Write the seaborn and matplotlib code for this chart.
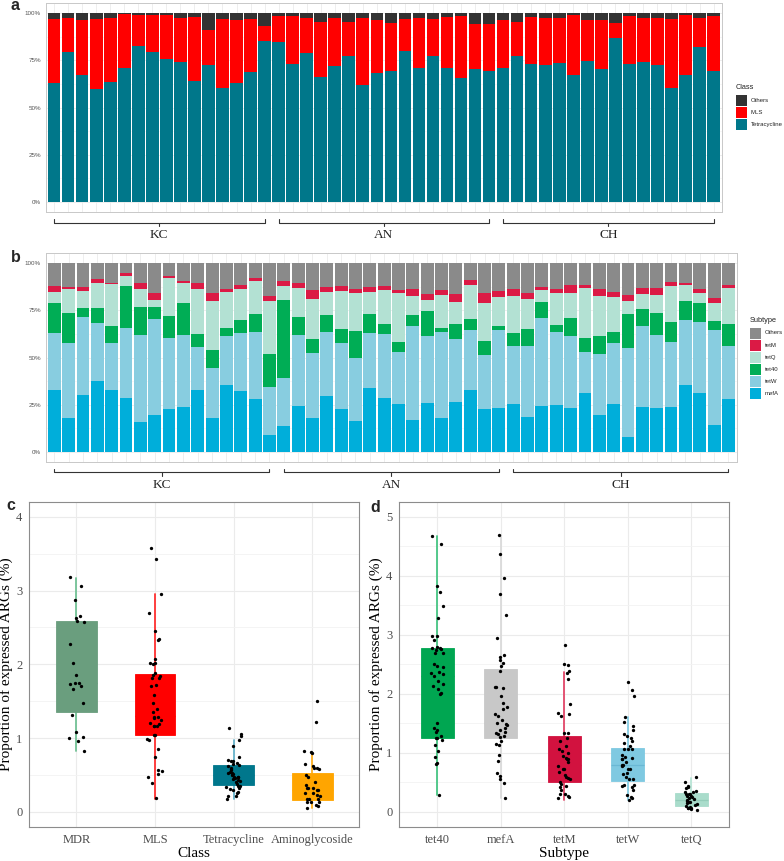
import numpy as np
import pandas as pd
import seaborn as sns
import matplotlib
matplotlib.use('Agg')
import matplotlib.pyplot as plt
import matplotlib.transforms as mtransforms
from matplotlib.patches import Rectangle

W, H = 784, 861

# ---- samples ----
groups = ['KC', 'AN', 'CH']
n_per_group = 16
samples = [f'{g}{i}' for g in groups for i in range(1, n_per_group + 1)]

# ---- panel a: class composition (%) ----
class_tetracycline = [62.8, 79.2, 67.0, 60.0, 63.5, 71.0, 82.5, 79.7, 76.0, 74.0, 64.0, 72.4, 60.1, 62.8, 68.9, 85.1,
                      84.6, 73.1, 78.7, 66.3, 72.0, 77.1, 62.1, 68.4, 69.2, 79.9, 70.8, 77.3, 71.0, 65.4, 70.3, 69.4,
                      71.2, 77.3, 73.3, 72.4, 73.8, 67.1, 74.7, 70.3, 86.9, 73.3, 74.0, 72.4, 60.5, 67.5, 82.2, 69.2]
class_mls = [34.1, 18.5, 29.7, 37.0, 34.2, 28.7, 16.5, 19.6, 23.3, 23.7, 34.1, 18.5, 36.9, 33.5, 28.1, 8.4,
             13.8, 25.5, 18.7, 29.3, 25.7, 18.5, 35.6, 28.3, 25.7, 17.3, 26.8, 19.7, 26.9, 32.9, 24.1, 25.0,
             25.3, 18.3, 24.6, 25.0, 23.9, 32.2, 21.8, 26.2, 7.7, 25.0, 23.6, 25.2, 36.5, 31.6, 15.4, 29.1]
class_others = [3.1, 2.3, 3.3, 3.0, 2.3, 0.3, 1.0, 0.7, 0.7, 2.3, 1.9, 9.1, 3.0, 3.7, 3.0, 6.5,
                1.6, 1.4, 2.6, 4.4, 2.3, 4.4, 2.3, 3.3, 5.1, 2.8, 2.4, 3.0, 2.1, 1.7, 5.6, 5.6,
                3.5, 4.4, 2.1, 2.6, 2.3, 0.7, 3.5, 3.5, 5.4, 1.7, 2.4, 2.4, 3.0, 0.9, 2.4, 1.7]

# ---- panel b: subtype composition (%) ----
sub_mefA = [32.7, 17.8, 29.9, 37.3, 32.6, 28.7, 15.7, 19.5, 22.5, 23.6, 32.6, 18.0, 35.6, 32.2, 28.0, 8.8,
            13.7, 24.1, 17.8, 29.6, 22.5, 16.4, 33.6, 28.3, 25.2, 16.7, 25.9, 17.8, 26.6, 32.7, 22.5, 23.4,
            25.5, 18.5, 24.5, 24.8, 23.1, 31.3, 19.7, 25.4, 7.9, 23.9, 23.1, 23.8, 35.2, 31.0, 14.1, 28.0]
sub_tetW = [30.3, 39.8, 41.6, 30.8, 25.0, 37.1, 46.3, 51.1, 38.1, 38.4, 22.9, 26.4, 26.0, 30.7, 35.4, 25.5,
            25.2, 38.0, 34.5, 34.1, 35.2, 33.6, 29.6, 34.0, 27.6, 50.2, 35.7, 45.8, 33.3, 31.7, 28.7, 41.4,
            30.7, 37.5, 46.3, 38.8, 38.3, 21.7, 32.2, 32.3, 46.9, 42.8, 38.7, 34.5, 34.5, 37.7, 50.7, 28.3]
sub_tet40 = [15.7, 16.0, 4.7, 8.1, 9.1, 22.1, 14.9, 6.2, 11.2, 17.0, 7.0, 9.8, 4.1, 7.2, 9.7, 17.8,
             41.7, 9.6, 7.6, 9.0, 7.3, 13.9, 9.9, 5.5, 5.3, 5.8, 12.9, 2.2, 7.9, 6.0, 7.8, 2.1,
             6.7, 9.1, 8.4, 3.5, 9.7, 7.6, 9.4, 5.9, 18.4, 9.0, 11.8, 10.7, 10.1, 10.2, 4.7, 11.7]
sub_tetQ = [6.2, 12.7, 9.0, 13.6, 22.2, 5.2, 9.2, 3.7, 20.5, 10.3, 23.9, 25.9, 19.0, 16.5, 17.6, 28.0,
            7.3, 15.1, 20.9, 12.0, 20.4, 20.1, 11.8, 17.9, 26.1, 9.9, 6.1, 17.3, 11.4, 18.3, 19.7, 15.1,
            20.0, 15.9, 6.4, 16.9, 13.1, 26.2, 21.3, 18.4, 6.7, 8.1, 9.5, 19.2, 8.9, 5.4, 9.2, 19.1]
sub_tetM = [2.8, 1.0, 2.3, 1.9, 0.7, 1.6, 3.5, 3.5, 1.0, 1.4, 3.4, 3.9, 1.9, 2.0, 1.6, 2.5,
            2.9, 3.0, 4.9, 2.6, 2.6, 2.4, 2.6, 2.0, 1.4, 3.8, 3.2, 2.6, 4.4, 2.5, 5.6, 3.4,
            3.4, 3.3, 1.7, 2.6, 4.2, 1.9, 3.8, 2.5, 3.2, 3.3, 3.9, 1.9, 0.9, 1.8, 3.0, 1.3]
sub_others = [12.3, 12.7, 12.5, 8.3, 10.4, 5.3, 10.4, 16.0, 6.7, 9.3, 10.2, 16.0, 13.4, 11.4, 7.7, 17.4,
              9.2, 10.2, 14.3, 12.7, 12.0, 13.6, 12.5, 12.3, 14.4, 13.6, 16.2, 14.3, 16.4, 8.8, 15.7, 14.6,
              13.7, 15.7, 12.7, 13.4, 11.6, 11.3, 13.6, 15.5, 16.9, 12.9, 13.0, 9.9, 10.4, 13.9, 18.3, 11.6]

# ---- panel c: per-sample proportion by class ----
class_order = ['MDR', 'MLS', 'Tetracycline', 'Aminoglycoside']
mdr_pts = [3.18, 3.06, 2.87, 2.66, 2.57, 2.59, 2.63, 2.27, 2.02, 1.85, 1.75, 1.70, 1.75, 1.73, 1.66, 1.47,
           1.31, 1.08, 1.02, 1.00, 0.96, 0.82]
mls_pts = [3.58, 3.43, 2.95, 2.69, 2.45, 2.34, 2.33, 2.07, 2.02, 2.02, 2.01, 1.88, 1.85, 1.84, 1.82, 1.82,
           1.72, 1.71, 1.58, 1.48, 1.39, 1.35, 1.28, 1.28, 1.27, 1.24, 1.21, 1.19, 1.17, 1.17, 1.17, 1.04,
           1.04, 0.99, 0.98, 0.85, 0.74, 0.57, 0.56, 0.51, 0.47, 0.39, 0.19]
tet_pts = [1.14, 1.05, 1.03, 0.97, 0.90, 0.75, 0.71, 0.69, 0.69, 0.66, 0.65, 0.62, 0.58, 0.57, 0.54, 0.53,
           0.53, 0.52, 0.48, 0.48, 0.48, 0.45, 0.43, 0.42, 0.40, 0.35, 0.35, 0.34, 0.33, 0.31, 0.30, 0.27,
           0.26, 0.22, 0.22, 0.18, 0.60, 0.63, 0.50, 0.46, 0.38]
amino_pts = [1.51, 1.22, 0.83, 0.81, 0.80, 0.65, 0.62, 0.60, 0.59, 0.58, 0.50, 0.47, 0.40, 0.37, 0.33, 0.32,
             0.32, 0.30, 0.30, 0.26, 0.26, 0.23, 0.21, 0.18, 0.17, 0.17, 0.13, 0.13, 0.13, 0.09, 0.08, 0.06]
c_q1 = [1.35, 1.04, 0.37, 0.16]
c_med = [1.75, 1.30, 0.50, 0.30]
c_q3 = [2.59, 1.87, 0.63, 0.53]
c_lo = [0.83, 0.18, 0.18, 0.05]
c_hi = [3.17, 2.95, 0.97, 0.78]

# ---- panel d: per-sample proportion by subtype ----
subtype_order = ['tet40', 'mefA', 'tetM', 'tetW', 'tetQ']
tet40_pts = [4.67, 4.54, 3.83, 3.73, 3.48, 3.29, 2.98, 2.98, 2.91, 2.79, 2.77, 2.76, 2.75, 2.78, 2.69, 2.69,
             2.51, 2.48, 2.46, 2.36, 2.37, 2.33, 2.31, 2.21, 2.16, 2.14, 2.08, 2.02, 2.00, 1.50, 1.42, 1.38,
             1.35, 1.26, 1.25, 1.22, 1.28, 1.13, 1.04, 0.93, 0.83, 0.81, 0.29]
mefA_pts = [4.69, 4.37, 3.97, 3.69, 3.33, 2.94, 2.66, 2.62, 2.58, 2.53, 2.48, 2.39, 2.11, 2.12, 2.10, 1.97,
            1.84, 1.77, 1.75, 1.66, 1.63, 1.56, 1.51, 1.48, 1.49, 1.42, 1.38, 1.35, 1.34, 1.32, 1.27, 1.28,
            1.20, 1.15, 1.14, 0.97, 0.87, 0.66, 0.61, 0.55, 0.49, 0.23]
tetM_pts = [2.82, 2.51, 2.49, 2.39, 2.36, 2.25, 1.83, 1.67, 1.66, 1.63, 1.34, 1.33, 1.26, 1.20, 1.12, 1.06,
            1.03, 1.00, 0.94, 0.91, 0.90, 0.89, 0.84, 0.78, 0.72, 0.72, 0.68, 0.63, 0.59, 0.57, 0.55, 0.51,
            0.48, 0.44, 0.42, 0.38, 0.31, 0.30, 0.27, 0.26, 0.23]
tetW_pts = [2.20, 2.07, 1.97, 1.61, 1.52, 1.45, 1.38, 1.32, 1.29, 1.26, 1.21, 1.17, 1.11, 1.07, 1.07, 1.06,
            0.96, 0.93, 0.92, 0.89, 0.89, 0.85, 0.79, 0.79, 0.78, 0.72, 0.72, 0.66, 0.65, 0.60, 0.56, 0.56,
            0.46, 0.46, 0.44, 0.43, 0.37, 0.28, 0.25, 0.23, 0.21]
tetQ_pts = [0.60, 0.51, 0.44, 0.43, 0.41, 0.35, 0.34, 0.33, 0.31, 0.30, 0.30, 0.27, 0.27, 0.26, 0.24, 0.22,
            0.21, 0.19, 0.16, 0.16, 0.15, 0.13, 0.11, 0.10, 0.08, 0.07, 0.06, 0.06, 0.05, 0.03]
d_q1 = [1.26, 1.25, 0.51, 0.52, 0.10]
d_med = [2.30, 1.50, 0.80, 0.80, 0.20]
d_q3 = [2.77, 2.42, 1.29, 1.09, 0.32]
d_lo = [0.29, 0.23, 0.21, 0.20, 0.03]
d_hi = [4.67, 4.69, 2.37, 1.60, 0.57]

# ---- colours ----
col_class = {'Tetracycline': '#00778A', 'MLS': '#FF0000', 'Others': '#333333'}
col_sub = {'mefA': '#00AEDA', 'tetW': '#88CDE0', 'tet40': '#00AD55', 'tetQ': '#B3E1D3',
           'tetM': '#DB1A45', 'Others': '#8A8A8A'}
c_fill = ['#6A9E7E', '#FF0000', '#00778C', '#FFA500']
c_whisk = ['#72C295', '#FF3030', '#67B3CB', '#FFB020']
c_medc = c_fill
d_fill = ['#00A651', '#C8C8C8', '#D2123F', '#7FC9E1', '#A9DCCB']
d_whisk = ['#46C583', '#DADADA', '#E24769', '#86CDE4', '#B8E5D6']
d_medc = ['#00A651', '#C8C8C8', '#D2123F', '#6AB8D4', '#94CDBA']

sns.set_theme(style='white')
plt.rcParams['font.family'] = ['Liberation Sans', 'DejaVu Sans']
serif = ['Liberation Serif', 'DejaVu Serif']

fig = plt.figure(figsize=(W / 100, H / 100), dpi=100)
fig.patch.set_facecolor('white')


def fig_rect(left, top, right, bottom):
    return [left / W, 1 - bottom / H, (right - left) / W, (bottom - top) / H]


ax_a = fig.add_axes(fig_rect(45.7, 3.3, 722, 211.7))
ax_b = fig.add_axes(fig_rect(45.7, 253.3, 737, 461.7))
ax_c = fig.add_axes(fig_rect(29.3, 502, 359.3, 826.7))
ax_d = fig.add_axes(fig_rect(399.3, 502, 729.3, 826.7))


def style_stack_axis(ax):
    ax.set_xlim(-0.6, len(samples) - 0.4)
    ax.set_ylim(-0.053, 1.053)
    ax.set_yticks([0, 0.25, 0.5, 0.75, 1.0])
    ax.set_yticklabels(['0%', '25%', '50%', '75%', '100%'], fontsize=4.5, color='#555555')
    ax.set_yticks([0.125, 0.375, 0.625, 0.875], minor=True)
    ax.set_xticks(range(len(samples)))
    ax.set_xticklabels([])
    ax.set_xlabel('')
    ax.tick_params(axis='both', which='major', length=2, width=0.5, color='#555555', pad=1.5)
    ax.tick_params(axis='y', which='minor', length=0)
    ax.grid(True, which='major', color='#EBEBEB', lw=0.6)
    ax.grid(True, which='minor', axis='y', color='#F2F2F2', lw=0.4)
    ax.set_axisbelow(True)
    for s in ax.spines.values():
        s.set_color('#C8C8C8')
        s.set_linewidth(0.7)


def draw_brackets(ax, y_line, y_text):
    trans = mtransforms.blended_transform_factory(ax.transData, fig.transFigure)
    yl = 1 - y_line / H
    d = 3.5 / H
    for k, g in enumerate(groups):
        x0 = k * n_per_group
        x1 = x0 + n_per_group - 1
        xm = (x0 + x1) / 2
        ax.plot([x0, x0, x1, x1], [yl + d, yl, yl, yl + d], transform=trans,
                color='#333333', lw=0.8, clip_on=False)
        ax.plot([xm, xm], [yl, yl - d], transform=trans, color='#333333', lw=0.8, clip_on=False)
        ax.text(xm, 1 - y_text / H, g, transform=trans, ha='center', va='center',
                fontsize=9.5, family=serif, color='#222222')


def stack_legend(labels, colors, title, x, y_title, y_key, key=11, step=12.1):
    # ggplot-style legend: title, then touching square keys with labels
    fig.text(x / W, 1 - y_title / H, title, fontsize=5.3, ha='left', va='center', color='#222222')
    for i, (lab, c) in enumerate(zip(labels, colors)):
        top = y_key + i * step
        fig.patches.append(Rectangle((x / W, 1 - (top + key) / H), key / W, key / H,
                                     transform=fig.transFigure, facecolor=c, edgecolor='none'))
        fig.text((x + key + 4) / W, 1 - (top + key / 2) / H, lab, fontsize=4.3,
                 ha='left', va='center', color='#222222')


# ---- panel a ----
df_a = pd.DataFrame({'Tetracycline': class_tetracycline, 'MLS': class_mls,
                     'Others': class_others}, index=samples) / 100
df_a.plot(kind='bar', stacked=True, ax=ax_a, width=0.9, edgecolor='none', legend=False,
          color=[col_class[c] for c in df_a.columns])
style_stack_axis(ax_a)
draw_brackets(ax_a, 222.5, 235)
class_legend = ['Others', 'MLS', 'Tetracycline']
stack_legend(class_legend, [col_class[k] for k in class_legend], 'Class', 735.5, 87.5, 95)

# ---- panel b ----
df_b = pd.DataFrame({'mefA': sub_mefA, 'tetW': sub_tetW, 'tet40': sub_tet40, 'tetQ': sub_tetQ,
                     'tetM': sub_tetM, 'Others': sub_others}, index=samples) / 100
df_b.plot(kind='bar', stacked=True, ax=ax_b, width=0.9, edgecolor='none', legend=False,
          color=[col_sub[c] for c in df_b.columns])
style_stack_axis(ax_b)
draw_brackets(ax_b, 472, 485)
sub_legend = ['Others', 'tetM', 'tetQ', 'tet40', 'tetW', 'mefA']
stack_legend(sub_legend, [col_sub[k] for k in sub_legend], 'Subtype', 750, 320.5, 327.5)


# ---- panels c, d ----
def box_panel(ax, order, pts, q1, med, q3, lo, hi, fills, whisks, meds, ymax, xlab):
    long = pd.DataFrame({'cat': [c for c, p in zip(order, pts) for _ in p],
                         'value': [v for p in pts for v in p]})
    np.random.seed(7)
    sns.stripplot(data=long, x='cat', y='value', order=order, color='black', size=2.4,
                  jitter=0.1, linewidth=0, ax=ax, zorder=3)
    stats = [dict(label=order[i], q1=q1[i], med=med[i], q3=q3[i], whislo=lo[i], whishi=hi[i], fliers=[])
             for i in range(len(order))]
    bp = ax.bxp(stats, positions=range(len(order)), widths=0.52, patch_artist=True, showfliers=False,
                showcaps=False, manage_ticks=False)
    for i in range(len(order)):
        bp['boxes'][i].set(facecolor=fills[i], edgecolor=fills[i], linewidth=0.6, zorder=2)
        for w in bp['whiskers'][2 * i:2 * i + 2]:
            w.set(color=whisks[i], linewidth=1.3, zorder=1.9)
        bp['medians'][i].set(color=meds[i], linewidth=0.9, zorder=2.1)
    ax.set_xlim(-0.6, len(order) - 0.4)
    ax.set_ylim(-0.05 * ymax, 1.05 * ymax)
    ax.set_xticks(range(len(order)))
    ax.set_xticklabels(order, fontsize=9, family=serif, color='#4D4D4D')
    ax.set_yticks(range(ymax + 1))
    ax.set_yticklabels([str(v) for v in range(ymax + 1)], fontsize=9, family=serif, color='#4D4D4D')
    ax.set_yticks(np.arange(0.5, ymax, 1.0), minor=True)
    ax.tick_params(axis='both', which='major', length=3, width=0.6, color='#555555', pad=2)
    ax.tick_params(axis='y', which='minor', length=0)
    ax.grid(True, which='major', color='#EBEBEB', lw=0.8)
    ax.grid(True, which='minor', axis='y', color='#F3F3F3', lw=0.6)
    ax.set_axisbelow(True)
    ax.set_xlabel(xlab, fontsize=11, family=serif, color='black', labelpad=1)
    ax.set_ylabel('Proportion of expressed ARGs (%)', fontsize=11, family=serif, color='black', labelpad=2)
    for s in ax.spines.values():
        s.set_color('#8C8C8C')
        s.set_linewidth(0.8)


box_panel(ax_c, class_order, [mdr_pts, mls_pts, tet_pts, amino_pts], c_q1, c_med, c_q3, c_lo, c_hi,
          c_fill, c_whisk, c_medc, 4, 'Class')
box_panel(ax_d, subtype_order, [tet40_pts, mefA_pts, tetM_pts, tetW_pts, tetQ_pts], d_q1, d_med, d_q3,
          d_lo, d_hi, d_fill, d_whisk, d_medc, 5, 'Subtype')

# ---- panel letters ----
for letter, x, y in [('a', 15, 6), ('b', 16, 257), ('c', 11, 506), ('d', 375, 507)]:
    fig.text(x / W, 1 - y / H, letter, fontsize=11.5, fontweight='bold', ha='center', va='center')

fig.savefig('out.png', dpi=100)
